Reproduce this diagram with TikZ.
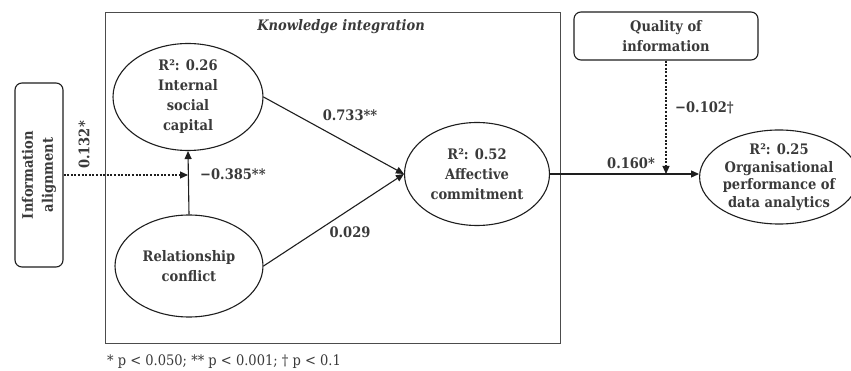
\documentclass[tikz,border=0pt]{standalone}
\usepackage{fontspec}
\setmainfont{DejaVu Serif Condensed}
\usetikzlibrary{shapes.geometric,arrows.meta}
\definecolor{txt}{HTML}{3A3A3A}
\definecolor{ln}{HTML}{1E1E1E}
\tikzset{
  lbl/.style={text=txt,font=\bfseries\fontsize{14.5}{20}\selectfont,inner sep=0pt},
  ell/.style={ellipse,draw=ln,line width=1.1pt,inner sep=0pt,align=center,text=txt,
    font=\bfseries\fontsize{14.5}{20}\selectfont},
  rbox/.style={draw=ln,rounded corners=7pt,line width=1.1pt,inner sep=0pt,align=center,text=txt,
    font=\bfseries\fontsize{14.5}{20}\selectfont},
  solidarr/.style={draw=ln,line width=1.1pt,-{Triangle[length=8pt,width=7pt]}},
  dotarr/.style={draw=ln,line width=1.1pt,dash pattern=on 2pt off 1.6pt,-{Triangle[length=8pt,width=7pt]}},
}
\begin{document}
\begin{tikzpicture}[x=1pt,y=-1pt]
\useasboundingbox[fill=white] (0,0) rectangle (851,371);
% knowledge integration frame
\node[draw=black!70,line width=0.9pt,minimum width=455,minimum height=331,inner sep=0pt] (ki) at (332.5,177.5) {};
\node[text=txt,font=\bfseries\itshape\fontsize{14.5}{20}\selectfont,anchor=east,inner sep=0pt] (kit) at (425,27) {Knowledge integration};
% nodes
\node[ell,minimum width=150,minimum height=107] (isc) at (188,97) {R²: 0.26\\Internal\\social\\capital};
\node[ell,minimum width=148,minimum height=102] (rc) at (189,266) {Relationship\\conflict};
\node[ell,minimum width=145,minimum height=103] (ac) at (477,174) {R²: 0.52\\Affective\\commitment};
\node[ell,minimum width=143,minimum height=88,font=\bfseries\fontsize{14.5}{17.5}\selectfont] (op) at (779,177) {R²: 0.25\\Organisational\\performance of\\data analytics};
\node[rbox,minimum width=184,minimum height=48] (qi) at (666,36) {Quality of\\information};
\node[rbox,minimum width=48,minimum height=184] (ia) at (39,175) {};
\node[text=txt,font=\bfseries\fontsize{14.5}{20}\selectfont,align=center,rotate=90,inner sep=0pt] (iat) at (ia) {Information\\alignment};
% connectors
\draw[solidarr] (rc.north) -- (isc.south);
\draw[dotarr] (ia.east) -- (ia.east -| isc.south);
\draw[solidarr] (isc.east) -- (ac.west);
\draw[solidarr] (rc.east) -- (ac.west);
\draw[solidarr] (ac.east) -- (ac.east -| op.west);
\draw[dotarr] (qi.south) -- (qi.south |- ac.east);
% labels
\node[lbl,rotate=90] (l1) at (84,145) {0.132*};
\node[lbl,anchor=west] (l2) at (200,174) {−0.385**};
\node[lbl] (l3) at (350,115) {0.733**};
\node[lbl] (l4) at (350,232) {0.029};
\node[lbl] (l5) at (631,163) {0.160*};
\node[lbl,anchor=west] (l6) at (675,108) {−0.102†};
\node[text=txt,font=\fontsize{14.5}{16}\selectfont,anchor=west,inner sep=0pt] (fn) at (107,362) {* p < 0.050; ** p < 0.001; † p < 0.1};
\end{tikzpicture}
\end{document}
